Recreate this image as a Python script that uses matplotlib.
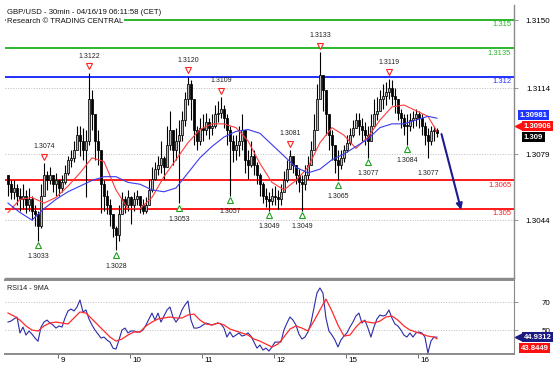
import numpy as np
import matplotlib.pyplot as plt
import matplotlib.transforms as mtransforms
from matplotlib.patches import Rectangle

plt.rcParams['font.family'] = ['Liberation Sans', 'DejaVu Sans']

# ---------------------------------------------------------------
# data (hourly-ish bars, GBP/USD 30min chart)
# ---------------------------------------------------------------
closes = [
    1.3063, 1.3059, 1.3061, 1.3057, 1.3055, 1.3057, 1.3052, 1.3055, 1.3049, 1.3047,
    1.3041, 1.3057, 1.3068, 1.3065, 1.3068, 1.3063, 1.3065, 1.3061, 1.3064, 1.3069,
    1.3076, 1.3077, 1.3081, 1.3089, 1.3086, 1.3081, 1.3086, 1.3108, 1.3100, 1.3086,
    1.3081, 1.3063, 1.3057, 1.3052, 1.3047, 1.3040, 1.3036, 1.3047, 1.3055, 1.3052,
    1.3056, 1.3052, 1.3055, 1.3057, 1.3052, 1.3049, 1.3052, 1.3060, 1.3066, 1.3071,
    1.3073, 1.3077, 1.3072, 1.3084, 1.3092, 1.3081, 1.3086, 1.3089, 1.3097, 1.3108,
    1.3116, 1.3108, 1.3092, 1.3086, 1.3093, 1.3092, 1.3096, 1.3093, 1.3094, 1.3100,
    1.3101, 1.3103, 1.3098, 1.3092, 1.3086, 1.3081, 1.3084, 1.3086, 1.3092, 1.3076,
    1.3073, 1.3078, 1.3073, 1.3068, 1.3063, 1.3057, 1.3055, 1.3054, 1.3057, 1.3056,
    1.3055, 1.3059, 1.3065, 1.3071, 1.3078, 1.3073, 1.3068, 1.3064, 1.3063, 1.3068,
    1.3073, 1.3081, 1.3092, 1.3108, 1.3121, 1.3113, 1.3100, 1.3089, 1.3084, 1.3076,
    1.3073, 1.3077, 1.3081, 1.3085, 1.3089, 1.3093, 1.3097, 1.3094, 1.3092, 1.3089,
    1.3086, 1.3094, 1.3100, 1.3102, 1.3108, 1.3110, 1.3112, 1.3114, 1.3110, 1.3108,
    1.3101, 1.3098, 1.3094, 1.3094, 1.3097, 1.3098, 1.3100, 1.3098, 1.3094, 1.3089,
    1.3086, 1.3091, 1.3092, 1.3090]
highs = [
    1.3068, 1.3065, 1.3065, 1.3063, 1.3061, 1.3063, 1.3060, 1.3061, 1.3057, 1.3052,
    1.3049, 1.3063, 1.3074, 1.3070, 1.3072, 1.3068, 1.3069, 1.3066, 1.3068, 1.3073,
    1.3078, 1.3081, 1.3086, 1.3094, 1.3094, 1.3093, 1.3092, 1.3122, 1.3113, 1.3097,
    1.3092, 1.3078, 1.3065, 1.3060, 1.3055, 1.3047, 1.3041, 1.3052, 1.3059, 1.3057,
    1.3060, 1.3057, 1.3059, 1.3060, 1.3056, 1.3055, 1.3056, 1.3066, 1.3072, 1.3075,
    1.3078, 1.3086, 1.3078, 1.3094, 1.3102, 1.3089, 1.3093, 1.3097, 1.3102, 1.3112,
    1.3120, 1.3118, 1.3105, 1.3094, 1.3098, 1.3100, 1.3101, 1.3098, 1.3100, 1.3105,
    1.3107, 1.3109, 1.3105, 1.3100, 1.3094, 1.3089, 1.3089, 1.3094, 1.3100, 1.3086,
    1.3081, 1.3086, 1.3081, 1.3075, 1.3069, 1.3064, 1.3061, 1.3059, 1.3061, 1.3062,
    1.3060, 1.3063, 1.3070, 1.3076, 1.3081, 1.3078, 1.3073, 1.3071, 1.3068, 1.3073,
    1.3078, 1.3086, 1.3100, 1.3116, 1.3133, 1.3121, 1.3110, 1.3100, 1.3092, 1.3084,
    1.3081, 1.3081, 1.3084, 1.3089, 1.3093, 1.3097, 1.3101, 1.3101, 1.3098, 1.3096,
    1.3094, 1.3100, 1.3108, 1.3109, 1.3113, 1.3116, 1.3117, 1.3119, 1.3118, 1.3114,
    1.3108, 1.3103, 1.3100, 1.3100, 1.3101, 1.3102, 1.3103, 1.3102, 1.3100, 1.3096,
    1.3093, 1.3094, 1.3094, 1.3093]
lows = [
    1.3057, 1.3055, 1.3055, 1.3052, 1.3049, 1.3050, 1.3048, 1.3049, 1.3044, 1.3041,
    1.3033, 1.3040, 1.3057, 1.3060, 1.3063, 1.3059, 1.3057, 1.3057, 1.3059, 1.3063,
    1.3068, 1.3072, 1.3075, 1.3081, 1.3078, 1.3076, 1.3056, 1.3084, 1.3092, 1.3076,
    1.3073, 1.3048, 1.3049, 1.3047, 1.3041, 1.3035, 1.3028, 1.3033, 1.3047, 1.3048,
    1.3049, 1.3042, 1.3049, 1.3052, 1.3048, 1.3047, 1.3048, 1.3052, 1.3059, 1.3065,
    1.3068, 1.3069, 1.3066, 1.3073, 1.3081, 1.3073, 1.3076, 1.3053, 1.3086, 1.3094,
    1.3105, 1.3097, 1.3084, 1.3081, 1.3084, 1.3086, 1.3089, 1.3087, 1.3089, 1.3093,
    1.3096, 1.3098, 1.3093, 1.3084, 1.3057, 1.3075, 1.3076, 1.3078, 1.3081, 1.3069,
    1.3066, 1.3072, 1.3068, 1.3063, 1.3057, 1.3053, 1.3051, 1.3049, 1.3052, 1.3052,
    1.3050, 1.3052, 1.3060, 1.3064, 1.3072, 1.3069, 1.3063, 1.3059, 1.3049, 1.3060,
    1.3066, 1.3073, 1.3081, 1.3092, 1.3110, 1.3102, 1.3089, 1.3081, 1.3076, 1.3069,
    1.3065, 1.3071, 1.3075, 1.3080, 1.3084, 1.3088, 1.3093, 1.3089, 1.3086, 1.3084,
    1.3077, 1.3086, 1.3094, 1.3097, 1.3102, 1.3103, 1.3105, 1.3108, 1.3105, 1.3101,
    1.3097, 1.3093, 1.3089, 1.3084, 1.3091, 1.3093, 1.3094, 1.3093, 1.3089, 1.3084,
    1.3077, 1.3084, 1.3086, 1.3088]
first_open = 1.3068

# moving averages, one value every 4 bars + last bar
ma_fast = [1.3048, 1.3055, 1.3056, 1.3053, 1.3056, 1.3062, 1.3069, 1.3077, 1.3075, 1.3060,
           1.3050, 1.3050, 1.3056, 1.3067, 1.3076, 1.3085, 1.3092, 1.3095, 1.3095, 1.3093,
           1.3086, 1.3074, 1.3064, 1.3060, 1.3065, 1.3072, 1.3085, 1.3093, 1.3089, 1.3082,
           1.3088, 1.3097, 1.3104, 1.3105, 1.3102, 1.3099, 1.3091]
ma_slow = [1.3053, 1.3048, 1.3044, 1.3050, 1.3055, 1.3059, 1.3062, 1.3065, 1.3067, 1.3067,
           1.3064, 1.3063, 1.3060, 1.3059, 1.3061, 1.3069, 1.3077, 1.3083, 1.3088, 1.3091,
           1.3092, 1.3090, 1.3084, 1.3078, 1.3072, 1.3069, 1.3071, 1.3076, 1.3079, 1.3083,
           1.3087, 1.3093, 1.3095, 1.3095, 1.3097, 1.3099, 1.3098]

rsi = [55.7, 56.4, 57.9, 59.3, 47.9, 52.1, 46.4, 49.3, 47.1, 44.3,
       42.0, 52.1, 55.7, 57.1, 55.0, 53.6, 51.4, 52.9, 52.1, 58.6,
       63.6, 65.0, 63.6, 66.4, 71.4, 62.9, 64.3, 57.9, 53.6, 50.0,
       47.1, 44.3, 45.0, 42.9, 41.4, 37.1, 36.4, 42.9, 50.0, 51.4,
       47.9, 49.3, 49.3, 48.6, 48.6, 50.0, 53.6, 57.9, 62.1, 57.1,
       62.1, 55.7, 60.0, 64.3, 66.4, 59.3, 55.7, 58.6, 64.3, 67.9,
       70.7, 57.1, 51.4, 51.4, 52.1, 53.6, 55.0, 54.3, 53.6, 54.3,
       55.0, 54.3, 51.4, 45.0, 48.6, 45.0, 46.4, 47.9, 45.7, 46.4,
       47.9, 45.7, 41.4, 37.1, 39.3, 35.7, 37.1, 35.0, 37.9, 41.4,
       41.4, 41.4, 50.0, 55.0, 59.3, 57.1, 53.6, 47.1, 43.6, 45.0,
       48.6, 55.0, 65.7, 76.4, 80.0, 76.4, 58.6, 49.3, 46.4, 42.9,
       37.9, 42.9, 45.7, 47.9, 52.1, 55.7, 60.0, 62.1, 55.0, 57.1,
       51.4, 45.0, 52.1, 57.9, 60.7, 60.0, 60.7, 64.3, 58.6, 54.3,
       52.9, 50.0, 46.4, 45.0, 47.9, 45.0, 47.9, 48.6, 47.9, 45.0,
       33.6, 42.1, 45.0, 44.9]
# 9MA of RSI, one value every 2 bars + last bar
rsi_ma = [62.1, 60.0, 57.1, 52.9, 50.0, 49.3, 52.9, 55.0, 55.7, 55.0,
          54.3, 58.6, 62.9, 62.1, 57.9, 53.6, 49.3, 45.0, 42.1, 43.6,
          46.4, 48.6, 48.6, 52.9, 55.7, 57.9, 58.6, 59.3, 58.6, 58.6,
          60.7, 61.4, 57.1, 54.3, 53.6, 55.0, 53.6, 50.7, 49.3, 47.9,
          46.4, 43.6, 42.1, 40.0, 37.9, 40.0, 45.0, 50.7, 52.9, 51.4,
          49.3, 56.4, 64.3, 72.1, 63.6, 53.6, 45.7, 46.4, 52.1, 56.4,
          55.7, 55.0, 56.4, 59.3, 60.0, 57.1, 52.9, 50.0, 48.6, 47.1,
          45.7, 45.0, 43.8]

levels = [1.3150, 1.3135, 1.3120, 1.3065, 1.3050]
level_labels = ['1.315', '1.3135', '1.312', '1.3065', '1.305']
level_colors = ['#2db52d', '#2db52d', '#1f2fff', '#ff1a1a', '#ff1a1a']

top_bars = [12, 27, 60, 71, 94, 104, 127]
top_vals = [1.3074, 1.3122, 1.3120, 1.3109, 1.3081, 1.3133, 1.3119]
bot_bars = [10, 36, 57, 74, 87, 98, 110, 120, 133]
bot_vals = [1.3033, 1.3028, 1.3053, 1.3057, 1.3049, 1.3049, 1.3065, 1.3077, 1.3084]
last_low_bar, last_low = 140, 1.3077

arrow_from = (144.3, 1.3091)
arrow_to = (151.3, 1.3048)

day_pos = [16.7, 40.7, 64.7, 88.7, 112.7, 136.7]
day_labels = ['9', '10', '11', '12', '15', '16']
price_ticks = [1.3044, 1.3079, 1.3114, 1.3150]

# ---------------------------------------------------------------
fig = plt.figure(figsize=(5.54, 3.73), dpi=100)
ax = fig.add_axes([5/554, 1-278/373, 509/554, 273/373])
ax2 = fig.add_axes([5/554, 1-354/373, 509/554, 74/373])

def off(dx, dy):
    return mtransforms.ScaledTranslation(dx/72, dy/72, fig.dpi_scale_trans)

n = len(closes)
opens = [first_open] + closes[:-1]
for i in range(n):
    o, h, l, c = opens[i], highs[i], lows[i], closes[i]
    ax.vlines(i, min(l, o, c), max(h, o, c), color='black', lw=0.8, zorder=3)
    fc = '#b8b8b8' if c > o else 'black'
    ax.add_patch(Rectangle((i - 0.38, min(o, c)), 0.76, max(abs(c - o), 0.00004),
                           fc=fc, ec='black', lw=0.55, zorder=4))

ma_x = list(range(0, n, 4)) + [n - 1]
ax.plot(ma_x, ma_fast, color='#ff3b3b', lw=0.8, zorder=5)
ax.plot(ma_x, ma_slow, color='#3a3af0', lw=0.8, zorder=5)

for lv, lb, col in zip(levels, level_labels, level_colors):
    ax.axhline(lv, color=col, lw=1.4, zorder=2)
    ax.annotate(lb, xy=(1, lv), xycoords=('axes fraction', 'data'), xytext=(-2, -1),
                textcoords='offset points', ha='right', va='top', fontsize=5.5, color=col)

for b, v in zip(top_bars, top_vals):
    ax.plot(b, v, marker='v', ms=4.5, mfc='white', mec='#ff2020', mew=0.8,
            transform=ax.transData + off(0, 4.7), zorder=6)
    ax.annotate(f'{v:.4f}', xy=(b, v), xytext=(0, 9.4), textcoords='offset points',
                ha='center', va='bottom', fontsize=5, color='#222222')
for b, v in zip(bot_bars, bot_vals):
    ax.plot(b, v, marker='^', ms=4.5, mfc='white', mec='#1fa01f', mew=0.8,
            transform=ax.transData + off(0, -3.3), zorder=6)
    ax.annotate(f'{v:.4f}', xy=(b, v), xytext=(0, -9), textcoords='offset points',
                ha='center', va='top', fontsize=5, color='#222222')
ax.annotate(f'{last_low:.4f}', xy=(last_low_bar, last_low), xytext=(0, -9),
            textcoords='offset points', ha='center', va='top', fontsize=5, color='#222222')

ax.annotate('', xy=arrow_to, xytext=arrow_from,
            arrowprops=dict(arrowstyle='-|>', color='#1c1c90', lw=1.5, mutation_scale=9))

ax.set_xlim(-1, 168.7)
ax.set_ylim(1.30133, 1.3158)
ax.set_xticks([])
ax.yaxis.tick_right()
ax.set_yticks(price_ticks)
ax.set_yticklabels([f'{t:.4f}' for t in price_ticks])
ax.tick_params(axis='y', length=3, width=0.6, pad=23, labelsize=5.8, color='#888888')
for lbl in ax.get_yticklabels():
    lbl.set_horizontalalignment('right')
ax.grid(axis='y', ls=':', color='#bbbbbb', lw=0.7)
for s in ['top', 'left']:
    ax.spines[s].set_visible(False)
for s in ['bottom', 'right']:
    ax.spines[s].set_color('#8a8a8a')
    ax.spines[s].set_linewidth(1.0)

def value_box(axis, val, text, fc, dx, dy, arrow=False):
    axis.annotate(text, xy=(1, val), xycoords=('axes fraction', 'data'), xytext=(dx, dy),
                  textcoords='offset points', ha='left', va='center', fontsize=5.6,
                  color='white', fontweight='bold', annotation_clip=False, zorder=10,
                  bbox=dict(boxstyle='square,pad=0.2', fc=fc, ec='none'))
    if arrow:
        axis.plot([1], [val], marker='<', ms=6, color=fc, clip_on=False, zorder=10,
                  transform=mtransforms.blended_transform_factory(axis.transAxes, axis.transData)
                  + off(3.6, dy))

value_box(ax, ma_slow[-1], '1.30981', '#1e36ff', 4.2, 2.2)
value_box(ax, ma_fast[-1], '1.30906', '#ff1010', 7.0, 3.6, arrow=True)
value_box(ax, closes[-1], '1.309', '#000000', 7.0, -2.9)

# RSI panel
ax2.plot(range(n), rsi, color='#2b2ba8', lw=0.8, zorder=3)
rsi_ma_x = list(range(0, n - 1, 2)) + [n - 1]
ax2.plot(rsi_ma_x, rsi_ma, color='#ff2a2a', lw=0.9, zorder=4)
ax2.set_xlim(-1, 168.7)
ax2.set_ylim(32.9, 85.7)
ax2.yaxis.tick_right()
ax2.set_yticks([50, 70])
ax2.set_yticklabels(['50', '70'])
ax2.tick_params(axis='y', length=3, width=0.6, pad=23, labelsize=5.8, color='#888888')
for lbl in ax2.get_yticklabels():
    lbl.set_horizontalalignment('right')
ax2.grid(axis='y', ls=':', color='#bbbbbb', lw=0.7)
ax2.set_xticks(day_pos)
ax2.set_xticklabels(day_labels)
ax2.tick_params(axis='x', length=3, width=0.6, pad=-0.7, labelsize=5.8, color='#555555')
for lbl in ax2.get_xticklabels():
    lbl.set_horizontalalignment('left')
    lbl.set_transform(lbl.get_transform() + off(1.5, 0))
ax2.spines['left'].set_visible(False)
for s in ['top', 'bottom']:
    ax2.spines[s].set_color('#8a8a8a')
    ax2.spines[s].set_linewidth(1.4)
ax2.spines['right'].set_color('#8a8a8a')
ax2.text(2/509, 0.93, 'RSI14 - 9MA', transform=ax2.transAxes, fontsize=5.2,
         ha='left', va='top', color='#222222')

value_box(ax2, rsi[-1], '44.9312', '#1a1a80', 7.0, 0, arrow=True)
value_box(ax2, rsi_ma[-1], '43.8449', '#ff1010', 4.8, -6.8)

fig.text(7/554, 1-13/373, 'GBP/USD - 30min - 04/16/19 06:11:58 (CET)', fontsize=5.6,
         ha='left', va='center', color='#111111')
fig.text(7/554, 1-21.5/373, 'Research \u00a9 TRADING CENTRAL', fontsize=5.6,
         ha='left', va='center', color='#111111',
         bbox=dict(boxstyle='square,pad=0.1', fc='white', ec='none'))

fig.savefig('out.png', dpi=100)
